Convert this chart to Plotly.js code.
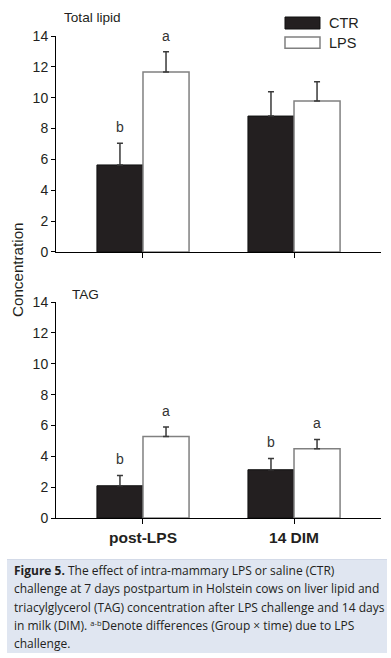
<!DOCTYPE html>
<html>
<head>
<meta charset="utf-8">
<script src="https://cdn.plot.ly/plotly-3.0.1.min.js"></script>
<style>
  html, body { margin: 0; padding: 0; background: #fff; width: 391px; height: 658px; overflow: hidden; }
  #plot { position: absolute; left: 0; top: 0; width: 391px; height: 658px; }
  #caption {
    position: absolute; left: 7px; top: 559px; width: 380px; height: 94px;
    box-sizing: border-box; padding: 2px 0 0 7px;
    background: #e0e6f1; border-top: 1px solid #d3dae8;
    font-family: "Open Sans", "Noto Sans", sans-serif; font-size: 12px; line-height: 18.3px;
    color: #231f20; white-space: nowrap;
  }
  #caption sup { font-size: 7.5px; line-height: 0; vertical-align: 4px; }
</style>
</head>
<body>
<div id="plot"></div>
<div id="caption"><b>Figure 5.</b> The effect of intra-mammary LPS or saline (CTR)<br>challenge at 7 days postpartum in Holstein cows on liver lipid and<br>triacylglycerol (TAG) concentration after LPS challenge and 14 days<br>in milk (DIM). <sup>a-b</sup>Denote differences (Group × time) due to LPS<br>challenge.</div>
<script>
// ---- data ----
const categories = ["post-LPS", "14 DIM"];
const seriesNames = ["CTR", "LPS"];
const lipidCTR = [5.64, 8.81];
const lipidCTRse = [1.40, 1.58];
const lipidLPS = [11.67, 9.79];
const lipidLPSse = [1.31, 1.25];
const tagCTR = [2.09, 3.13];
const tagCTRse = [0.67, 0.73];
const tagLPS = [5.29, 4.49];
const tagLPSse = [0.61, 0.60];
const lipidCTRletters = ["b", ""];
const lipidLPSletters = ["a", ""];
const tagCTRletters = ["b", "b"];
const tagLPSletters = ["a", "a"];
const panelTitles = ["Total lipid", "TAG"];
const yTickVals = [0, 2, 4, 6, 8, 10, 12, 14];
const yAxisTitle = "Concentration";

// ---- styles ----
const ctrFill = "#231f20";
const lpsFill = "#ffffff";
const lpsLine = "#808080";
const errColor = "#3a3a3a";
const bargap = 0.39;
const half = (1 - bargap) / 4;

function errY(se) {
  return { type: "data", symmetric: false, array: se, arrayminus: se.map(() => 0),
           color: errColor, thickness: 1.5, width: 3 };
}
function barTrace(vals, se, name, fill, line, lw, xa, ya) {
  return {
    type: "bar", x: categories, y: vals, name: name, xaxis: xa, yaxis: ya,
    marker: { color: fill, line: { color: line, width: lw } },
    error_y: errY(se), showlegend: false, hoverinfo: "skip"
  };
}

const data = [
  barTrace(lipidCTR, lipidCTRse, seriesNames[0], ctrFill, "#111", 1, "x", "y"),
  barTrace(lipidLPS, lipidLPSse, seriesNames[1], lpsFill, lpsLine, 1.5, "x", "y"),
  barTrace(tagCTR, tagCTRse, seriesNames[0], ctrFill, "#111", 1, "x2", "y2"),
  barTrace(tagLPS, tagLPSse, seriesNames[1], lpsFill, lpsLine, 1.5, "x2", "y2")
];

const annotations = [];
function addLetters(letters, vals, se, side, xref, yref) {
  letters.forEach((t, i) => {
    if (!t) return;
    annotations.push({
      xref: xref, yref: yref, x: i + side * half, y: vals[i] + se[i],
      text: t, showarrow: false, yanchor: "middle", yshift: 16,
      font: { family: "Arial, Liberation Sans, sans-serif", size: 14, color: "#333" }
    });
  });
}
addLetters(lipidCTRletters, lipidCTR, lipidCTRse, -1, "x", "y");
addLetters(lipidLPSletters, lipidLPS, lipidLPSse, 1, "x", "y");
addLetters(tagCTRletters, tagCTR, tagCTRse, -1, "x2", "y2");
addLetters(tagLPSletters, tagLPS, tagLPSse, 1, "x2", "y2");

const txtFont = { family: "Arial, Liberation Sans, sans-serif", size: 13.6, color: "#231f20" };
annotations.push(
  { xref: "paper", yref: "paper", x: 0.018, y: 1.0394, xanchor: "left", yanchor: "middle",
    text: panelTitles[0], showarrow: false, font: txtFont },
  { xref: "paper", yref: "paper", x: 0.043, y: 0.4647, xanchor: "left", yanchor: "middle",
    text: panelTitles[1], showarrow: false, font: txtFont },
  { xref: "paper", yref: "paper", x: -0.12, y: 0.5145, xanchor: "center", yanchor: "middle",
    text: yAxisTitle, textangle: -90, showarrow: false,
    font: { family: "Arial, Liberation Sans, sans-serif", size: 15.2, color: "#231f20" } },
  { xref: "paper", yref: "paper", x: 0.834, y: 1.027, xanchor: "left", yanchor: "middle",
    text: seriesNames[0], showarrow: false,
    font: { family: "Arial, Liberation Sans, sans-serif", size: 14.5, color: "#231f20" } },
  { xref: "paper", yref: "paper", x: 0.834, y: 0.9865, xanchor: "left", yanchor: "middle",
    text: seriesNames[1], showarrow: false,
    font: { family: "Arial, Liberation Sans, sans-serif", size: 14.5, color: "#231f20" } }
);

const shapes = [
  { type: "rect", xref: "paper", yref: "paper", x0: 0.7046, x1: 0.8123, y0: 1.0145, y1: 1.0394,
    fillcolor: ctrFill, line: { color: "#111", width: 1 } },
  { type: "rect", xref: "paper", yref: "paper", x0: 0.7046, x1: 0.8123, y0: 0.9745, y1: 0.9979,
    fillcolor: lpsFill, line: { color: lpsLine, width: 1.5 } }
];

const axisFont = { family: "Arial, Liberation Sans, sans-serif", size: 14, color: "#231f20" };
function yAxis(domain, anchor) {
  return {
    domain: domain, anchor: anchor, range: [0, 14], tickvals: yTickVals,
    showline: true, linecolor: "#000", linewidth: 1, ticks: "outside", ticklen: 4,
    tickcolor: "#000", showgrid: false, zeroline: false, tickfont: axisFont, fixedrange: true
  };
}
function xAxis(anchor, showLabels) {
  return {
    anchor: anchor, type: "category", range: [-0.576, 1.576],
    showline: true, linecolor: "#000", linewidth: 1, ticks: "outside", ticklen: 5,
    tickcolor: "#000", showgrid: false, zeroline: false, showticklabels: showLabels,
    tickfont: { family: "Arial, Liberation Sans, sans-serif", size: 15.5, color: "#231f20", weight: "bold" },
    fixedrange: true
  };
}

const layout = {
  width: 391, height: 658,
  margin: { l: 56, r: 10, t: 36, b: 140 },
  paper_bgcolor: "#fff", plot_bgcolor: "rgba(0,0,0,0)",
  barmode: "group", bargap: bargap, bargroupgap: 0,
  showlegend: false,
  xaxis: xAxis("y", false),
  yaxis: yAxis([0.552, 1], "x"),
  xaxis2: xAxis("y2", true),
  yaxis2: yAxis([0, 0.448], "x2"),
  annotations: annotations,
  shapes: shapes
};

Plotly.newPlot("plot", data, layout, { staticPlot: true, displayModeBar: false });
</script>
</body>
</html>
